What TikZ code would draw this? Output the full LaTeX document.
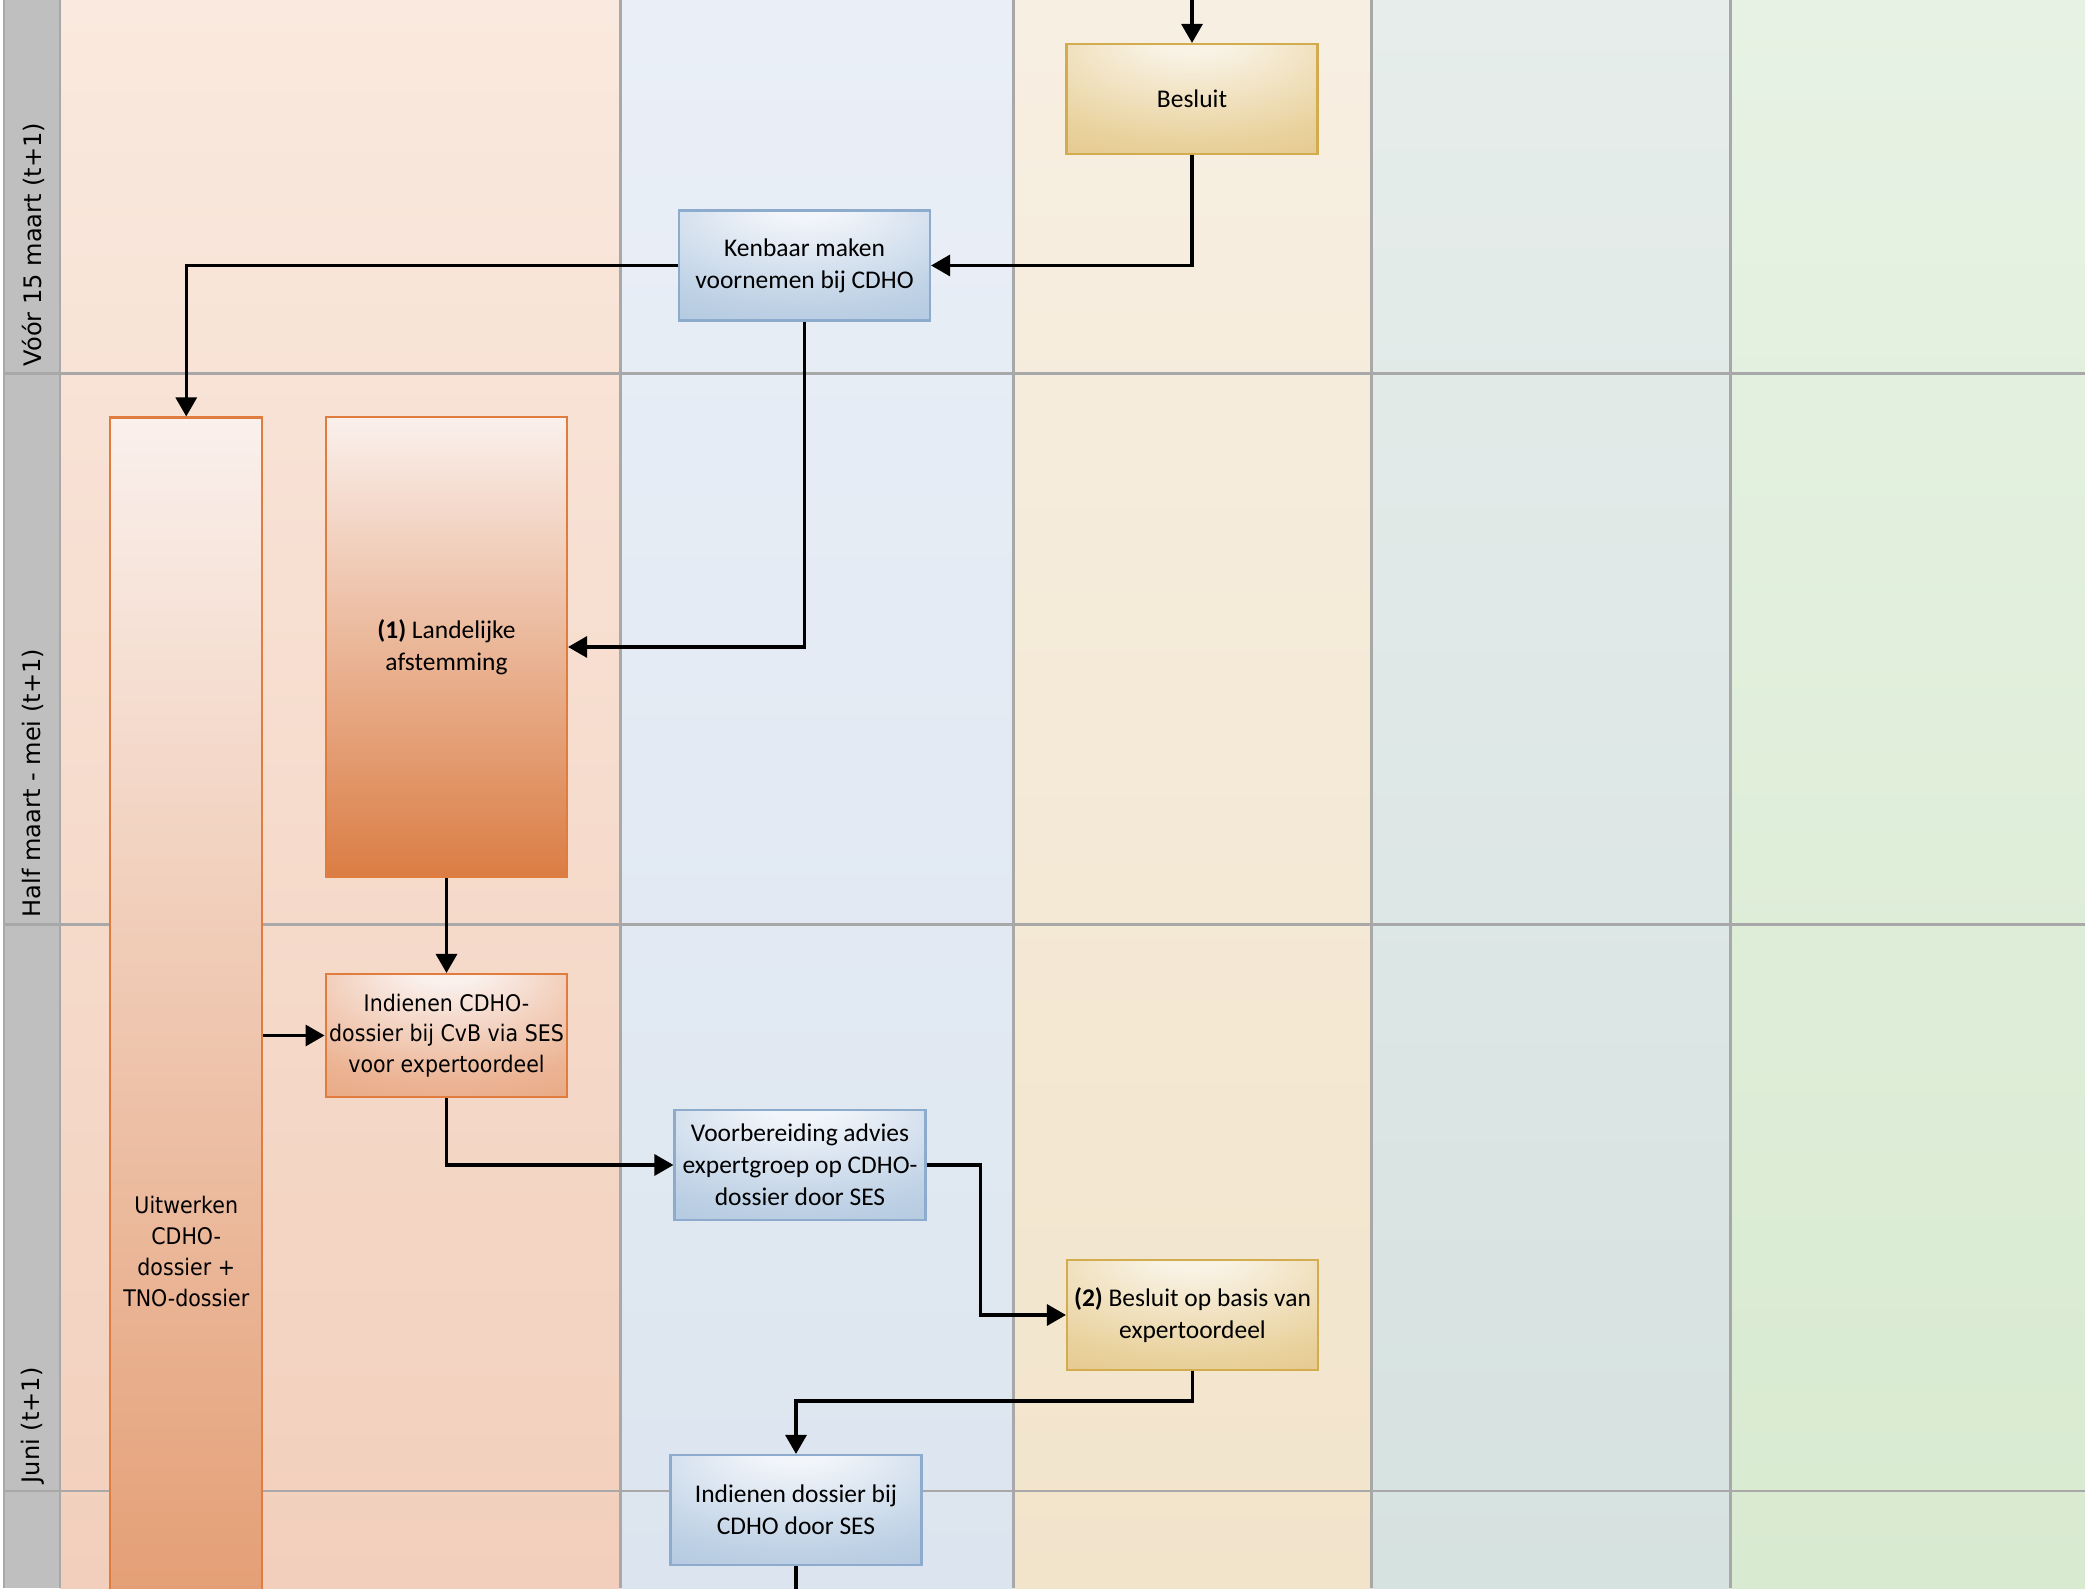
\documentclass[tikz,border=0pt]{standalone}
\usepackage{fontspec}
\setmainfont{Carlito}
\newfontfamily\labelfont{DejaVu Sans}
\newfontfamily\smalfont[FakeStretch=0.9]{DejaVu Sans}
\usetikzlibrary{arrows.meta}

% kleuren banen
\definecolor{oranjeTop}{RGB}{250,233,222}
\definecolor{oranjeBot}{RGB}{242,207,188}
\definecolor{blauwTop}{RGB}{234,239,247}
\definecolor{blauwBot}{RGB}{220,229,239}
\definecolor{goudTop}{RGB}{247,239,226}
\definecolor{goudBot}{RGB}{242,228,203}
\definecolor{grijsTop}{RGB}{230,237,235}
\definecolor{grijsBot}{RGB}{214,226,224}
\definecolor{groenTop}{RGB}{231,242,228}
\definecolor{groenBot}{RGB}{216,234,208}
\definecolor{kopGrijs}{RGB}{191,191,191}
\definecolor{rasterGrijs}{RGB}{168,168,168}
% kleuren blokken
\definecolor{blauwHi}{RGB}{242,245,250}
\definecolor{blauwMid}{RGB}{190,209,229}
\definecolor{blauwLo}{RGB}{140,172,205}
\definecolor{blauwRand}{RGB}{141,172,205}
\definecolor{goudHi}{RGB}{249,243,230}
\definecolor{goudMid}{RGB}{233,210,158}
\definecolor{goudLo}{RGB}{214,170,80}
\definecolor{goudRand}{RGB}{212,172,80}
\definecolor{oraHi}{RGB}{250,240,236}
\definecolor{oraMid}{RGB}{236,180,148}
\definecolor{oraLo}{RGB}{219,125,68}
\definecolor{oraRand}{RGB}{224,124,62}

\pgfdeclareradialshading{glowblauw}{\pgfpoint{0bp}{32bp}}{color(0bp)=(blauwHi); color(8bp)=(blauwHi); color(38bp)=(blauwMid); color(92bp)=(blauwLo)}
\pgfdeclareradialshading{glowgoud}{\pgfpoint{0bp}{32bp}}{color(0bp)=(goudHi); color(8bp)=(goudHi); color(38bp)=(goudMid); color(92bp)=(goudLo)}
\pgfdeclareradialshading{glowora}{\pgfpoint{0bp}{32bp}}{color(0bp)=(oraHi); color(8bp)=(oraHi); color(38bp)=(oraMid); color(92bp)=(oraLo)}

\newcommand\bloktekst{\fontsize{7.25pt}{9.1pt}\selectfont}
\newcommand\smaltekst{\smalfont\fontsize{6.5pt}{8.75pt}\selectfont}
\newcommand\periodetekst{\labelfont\fontsize{6.85pt}{8pt}\selectfont}

\tikzset{
	raster/.style={draw=rasterGrijs, line width=0.85pt},
	periode/.style={rotate=90, anchor=west, inner sep=2pt, font=\periodetekst},
	pijl/.style={line width=0.9pt, -{Triangle[length=0.19cm, width=0.21cm]}},
	lijn/.style={line width=0.9pt},
	blok/.style={rectangle, line width=0.6pt, align=center, inner sep=1pt, minimum width=2.51cm, minimum height=1.1cm, font=\bloktekst},
	blauwblok/.style={blok, draw=blauwRand, shading=glowblauw},
	goudblok/.style={blok, draw=goudRand, shading=glowgoud},
	oranjeblok/.style={blok, draw=oraRand, shading=glowora, minimum width=2.41cm},
	oranjelang/.style={blok, draw=oraRand, top color=oraHi, bottom color=oraLo}
}

\begin{document}
\begin{tikzpicture}
	% kader
	\useasboundingbox (0,0) rectangle (20.85,15.88);
	\clip (0,0) rectangle (20.85,15.88);
	\fill[white] (0,0) rectangle (20.85,15.88);
	% banen
	\fill[kopGrijs] (0.04,0) rectangle (0.60,15.88);
	\foreach \xa/\xb/\kl in {0.60/6.20/oranje, 6.20/10.13/blauw, 10.13/13.71/goud, 13.71/17.30/grijs, 17.30/20.85/groen}
		\shade[top color=\kl Top, bottom color=\kl Bot] (\xa,0) rectangle (\xb,15.88);
	% rasterlijnen
	\foreach \x in {0.04,0.60,6.20,10.13,13.71,17.30}
		\draw[raster] (\x,0) -- (\x,15.88);
	\foreach \y in {12.14,6.63,0.97}
		\draw[raster] (0.04,\y) -- (20.85,\y);
	% periodes
	\node[periode] (vmaart) at (0.33,12.14) {Vóór 15 maart (t+1)};
	\node[periode] (halfmaart) at (0.33,6.63) {Half maart - mei (t+1)};
	\node[periode] (juni) at (0.33,0.97) {Juni (t+1)};
	% stappen
	\node[goudblok] (besluit) at (11.92,14.89) {Besluit};
	\node[blauwblok] (kenbaar) at (8.045,13.225) {Kenbaar maken\\voornemen bij CDHO};
	\node[oranjelang, minimum width=1.52cm, minimum height=16.68cm, font=\smaltekst] (uitwerken) at (1.8625,3.365) {Uitwerken\\CDHO-\\dossier +\\TNO-dossier};
	\node[oranjelang, minimum width=2.41cm, minimum height=4.6cm] (landelijk) at (4.465,9.41) {\textbf{(1)} Landelijke\\afstemming};
	\node[oranjeblok, minimum height=1.23cm, font=\smaltekst] (indienencvb) at (4.465,5.525) {Indienen CDHO-\\dossier bij CvB via SES\\voor expertoordeel};
	\node[blauwblok] (voorbereiding) at (8.0,4.23) {Voorbereiding advies\\expertgroep op CDHO-\\dossier door SES};
	\node[goudblok] (besluitexpert) at (11.925,2.73) {\textbf{(2)} Besluit op basis van\\expertoordeel};
	\node[blauwblok] (indienencdho) at (7.96,0.78) {Indienen dossier bij\\CDHO door SES};
	% pijlen
	\coordinate (inkomend) at (11.92,16.3);
	\coordinate (uitgaand) at (7.96,-0.3);
	\draw[pijl] (inkomend) -- (besluit);
	\draw[pijl] (besluit.south) |- (kenbaar.east);
	\draw[pijl] (kenbaar.west) -| (uitwerken.north);
	\draw[pijl] (kenbaar.south) |- (landelijk.east);
	\draw[pijl] (landelijk) -- (indienencvb);
	\draw[pijl] (uitwerken.east |- indienencvb.west) -- (indienencvb.west);
	\draw[pijl] (indienencvb.south) |- (voorbereiding.west);
	\draw[pijl] (voorbereiding.east) -- ++(0.54,0) |- (besluitexpert.west);
	\draw[pijl] (besluitexpert.south) -- ++(0,-0.3) -| (indienencdho.north);
	\draw[lijn] (indienencdho) -- (uitgaand);
\end{tikzpicture}
\end{document}
